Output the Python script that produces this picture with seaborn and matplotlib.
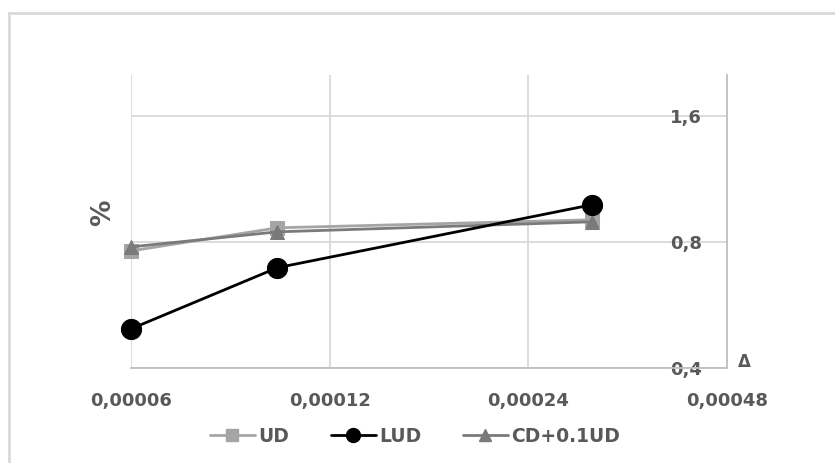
import matplotlib
matplotlib.use('Agg')
import matplotlib.pyplot as plt
import seaborn as sns
import pandas as pd
from matplotlib.ticker import FixedLocator, NullLocator, FixedFormatter
from matplotlib.lines import Line2D

# data
delta = [0.00006, 0.0001, 0.0003]
ud = [0.761, 0.864, 0.903]
lud = [0.496, 0.694, 0.981]
cd_ud = [0.778, 0.845, 0.893]

x_ticks = [0.00006, 0.00012, 0.00024, 0.00048]
x_labels = ['0,00006', '0,00012', '0,00024', '0,00048']
y_ticks = [0.4, 0.8, 1.6]
y_labels = ['0,4', '0,8', '1,6']

sns.set_theme(style='white')
plt.rcParams['font.family'] = ['DejaVu Sans']
plt.rcParams['font.weight'] = 'bold'
txt_col = '#595959'

fig = plt.figure(figsize=(8.35, 4.63), dpi=100)
ax = fig.add_axes([131/835, 1-368/463, (727-131)/835, (368-75)/463])

# series
series = [
    ('UD', ud, '#A5A5A5', 's', 10, 2),
    ('LUD', lud, '#000000', 'o', 14.5, 4),
    ('CD+0.1UD', cd_ud, '#7A7A7A', '^', 10, 3),
]
for name, vals, col, mk, ms, z in series:
    sns.lineplot(x=delta, y=vals, ax=ax, color=col, marker=mk, markersize=ms,
                 markeredgecolor=col, linewidth=2, zorder=z, legend=False,
                 clip_on=False)

ax.set_xscale('log', base=2)
ax.set_yscale('log', base=2)
ax.set_xlim(0.00006, 0.00048)
ax.set_ylim(0.4, 2.0)

ax.xaxis.set_major_locator(FixedLocator(x_ticks))
ax.xaxis.set_major_formatter(FixedFormatter(x_labels))
ax.xaxis.set_minor_locator(NullLocator())
ax.yaxis.set_major_locator(FixedLocator(y_ticks))
ax.yaxis.set_major_formatter(FixedFormatter(y_labels))
ax.yaxis.set_minor_locator(NullLocator())

ax.grid(True, color='#D9D9D9', linewidth=1.3)
ax.set_axisbelow(True)
ax.yaxis.tick_right()
ax.tick_params(axis='x', length=0, pad=17, labelsize=13, labelcolor=txt_col)
ax.tick_params(axis='y', length=0, pad=-18, labelsize=13, labelcolor=txt_col)
for lab in ax.get_yticklabels():
    lab.set_horizontalalignment('right')

for s in ['top', 'left']:
    ax.spines[s].set_visible(False)
for s in ['bottom', 'right']:
    ax.spines[s].set_color('#BFBFBF')
    ax.spines[s].set_linewidth(1.3)
ax.set_xlabel('')
ax.set_ylabel('')

# axis titles
fig.text(103/835, 1-213/463, '%', rotation=90, ha='center', va='center',
         fontsize=19, color=txt_col, fontweight='bold')
fig.text(744/835, 1-362/463, 'Δ', ha='center', va='center',
         fontsize=12, color=txt_col, fontweight='bold')

# legend
handles = [
    Line2D([], [], color='#A5A5A5', marker='s', markersize=8, linewidth=2),
    Line2D([], [], color='#000000', marker='o', markersize=10, linewidth=2),
    Line2D([], [], color='#7A7A7A', marker='^', markersize=8, linewidth=2),
]
leg = fig.legend(handles, ['UD', 'LUD', 'CD+0.1UD'], loc='center',
                 bbox_to_anchor=(415/835, 1-436/463), ncol=3, frameon=False,
                 fontsize=13.5, handlelength=2.4, handletextpad=0.2, columnspacing=2.2)
for t in leg.get_texts():
    t.set_color(txt_col)

# chart border (top and left visible)
fig.add_artist(plt.Rectangle((9/835, -0.1), 1.2, 1-13/463+0.1, transform=fig.transFigure,
                             fill=False, edgecolor='#D9D9D9', linewidth=2))

fig.savefig('out.png', dpi=100)
